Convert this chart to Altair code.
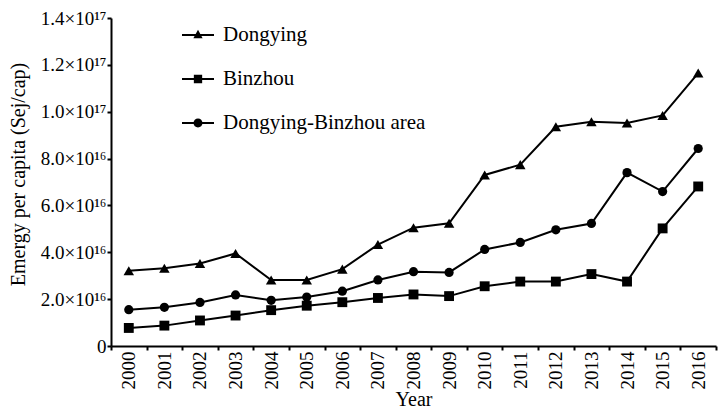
import altair as alt
import pandas as pd

years = [str(y) for y in range(2000, 2017)]
series_names = ["Dongying", "Binzhou", "Dongying-Binzhou area"]
dongying = [3.21e16, 3.32e16, 3.52e16, 3.95e16, 2.82e16, 2.82e16, 3.28e16, 4.33e16, 5.05e16,
            5.24e16, 7.30e16, 7.74e16, 9.36e16, 9.57e16, 9.52e16, 9.84e16, 11.65e16]
binzhou = [0.77e16, 0.87e16, 1.09e16, 1.30e16, 1.53e16, 1.72e16, 1.87e16, 2.05e16, 2.20e16,
           2.13e16, 2.55e16, 2.75e16, 2.75e16, 3.07e16, 2.75e16, 5.02e16, 6.81e16]
area = [1.55e16, 1.65e16, 1.86e16, 2.18e16, 1.95e16, 2.09e16, 2.34e16, 2.82e16, 3.17e16,
        3.14e16, 4.12e16, 4.42e16, 4.96e16, 5.23e16, 7.40e16, 6.59e16, 8.43e16]
y_ticks = [0, 2e16, 4e16, 6e16, 8e16, 1.0e17, 1.2e17, 1.4e17]
y_tick_labels = ["0", "2.0×10¹⁶", "4.0×10¹⁶", "6.0×10¹⁶", "8.0×10¹⁶",
                 "1.0×10¹⁷", "1.2×10¹⁷", "1.4×10¹⁷"]

rows = []
for name, vals in zip(series_names, [dongying, binzhou, area]):
    for yr, v in zip(years, vals):
        rows.append({"Year": yr, "Series": name, "Value": v})
df = pd.DataFrame(rows)

FONT = "Liberation Serif"
label_expr = "[" + ",".join("'" + s + "'" for s in y_tick_labels) + "][round(datum.value/2e16)]"

x_enc = alt.X("Year:O", sort=years, bandPosition=0.5,
              scale=alt.Scale(type="band", paddingInner=0, paddingOuter=0),
              axis=alt.Axis(title="Year", labelAngle=270, tickBand="extent",
                            tickSize=4, labelPadding=1, titlePadding=0,
                            labelFontSize=19, titleFontSize=20))
y_enc = alt.Y("Value:Q", scale=alt.Scale(domain=[0, 1.4e17], nice=False),
              axis=alt.Axis(title="Emergy per capita (Sej/cap)", values=y_ticks,
                            labelExpr=label_expr, tickSize=4, labelPadding=1,
                            labelFontSize=19, titleFontSize=20,
                            titleX=-83, titleY=156, titleBaseline="bottom"))

base = alt.Chart(df)

lines = base.mark_line(color="black", strokeWidth=2).encode(
    x=x_enc, y=y_enc, detail="Series:N")

points = base.mark_point(filled=True, color="black", opacity=1).encode(
    x=x_enc, y=y_enc,
    shape=alt.Shape("Series:N", legend=None,
                    scale=alt.Scale(domain=series_names,
                                    range=["triangle-up", "square", "circle"])),
    size=alt.Size("Series:N", legend=None,
                  scale=alt.Scale(domain=series_names, range=[110, 85, 85])),
)

bar = "M-1,-0.065L1,-0.065L1,0.065L-1,0.065Z"
legend_paths = [
    bar + "M0,-0.33L0.29,0.21L-0.29,0.21Z",
    bar + "M-0.26,-0.26L0.26,-0.26L0.26,0.26L-0.26,0.26Z",
    bar + "M0.28,0A0.28,0.28 0 1,1 -0.28,0A0.28,0.28 0 1,1 0.28,0Z",
]

legend_layer = base.transform_filter("false").mark_point(
    filled=True, fill="black", stroke="black", strokeWidth=0).encode(
    x=x_enc, y=y_enc,
    shape=alt.Shape("Series:N",
                    scale=alt.Scale(domain=series_names, range=legend_paths),
                    legend=alt.Legend(title=None, orient="none", legendX=71, legendY=1,
                                      padding=0, symbolSize=1024, symbolStrokeWidth=0,
                                      symbolFillColor="black", symbolStrokeColor="black",
                                      symbolOpacity=1, labelFont=FONT, labelFontSize=21,
                                      labelColor="black", labelOffset=9, rowPadding=18,
                                      labelLimit=400)),
)

chart = alt.layer(lines, points, legend_layer).resolve_scale(
    shape="independent", size="independent"
).properties(
    width=605, height=328,
    autosize=alt.AutoSizeParams(type="none"),
    padding={"left": 103, "top": 10, "right": 2, "bottom": 65},
).configure_view(strokeWidth=0).configure_axis(
    grid=False, domainColor="black", domainWidth=2, tickColor="black", tickWidth=2,
    labelFont=FONT, labelFontSize=20, labelColor="black",
    titleFont=FONT, titleFontSize=21, titleFontWeight="normal", titleColor="black",
)

chart.save("out.html", embed_options={"renderer": "svg", "actions": False})
